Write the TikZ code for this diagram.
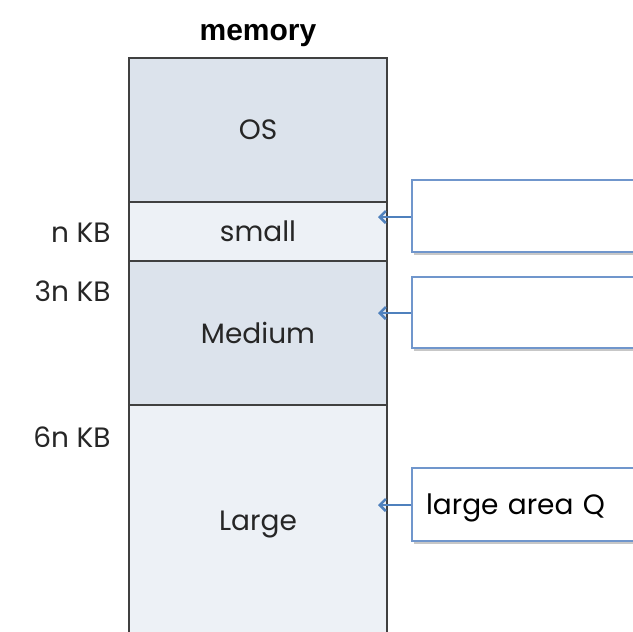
\documentclass[tikz,border=0pt]{standalone}
\usepackage{fontspec}
\setmainfont{Poppins}
\newfontfamily\headfont{Liberation Sans}
\usetikzlibrary{arrows.meta,shadows}
\definecolor{celldark}{HTML}{DCE3EC}
\definecolor{celllight}{HTML}{EDF1F6}
\definecolor{cellline}{HTML}{404040}
\definecolor{boxline}{HTML}{7096CC}
\definecolor{arrowblue}{HTML}{4F81BD}
\tikzset{
  label font/.style={font=\fontsize{28}{30}\selectfont,text=black!85},
  cell/.style={draw=cellline,line width=1.6pt,minimum width=258pt,inner sep=0pt,label font},
  note/.style={draw=boxline,line width=1.6pt,fill=white,minimum width=238pt,
    text width=210pt,align=left,inner sep=14pt,label font,text=black,text depth=0pt,
    drop shadow={shadow xshift=2pt,shadow yshift=-3pt,fill=black!22,opacity=1}},
  size/.style={anchor=east,label font},
  pointer/.style={draw=arrowblue,line width=2.6pt,-{Straight Barb[length=6pt,width=12pt]}}
}
\begin{document}
\begin{tikzpicture}[x=1pt,y=-1pt]
    \useasboundingbox (0,0) rectangle (633,632);
    \clip (0,0) rectangle (633,632);

    \coordinate (P1) at (378,217);
    \coordinate (P2) at (378,313);
    \coordinate (P3) at (378,505);

    \node (head) at (258,36) {\headfont\bfseries\fontsize{30}{32}\selectfont memory};

    \node[cell,fill=celldark,minimum height=144pt] (os) at (258,130) {OS};
    \node[cell,fill=celllight,minimum height=59pt] (small) at (258,231.5) {small};
    \node[cell,fill=celldark,minimum height=144pt] (medium) at (258,333) {Medium};
    \node[cell,fill=celllight,minimum height=245pt] (large) at (258,527.5) {};
    \node[label font,text depth=0pt] (largetxt) at (258,521) {Large};

    \node[size] (nkb) at (114,233) {n KB};
    \node[size] (tnkb) at (114,291) {3n KB};
    \node[size] (snkb) at (114,437) {6n KB};

    \node[note,minimum height=72pt] (q1) at (531,216) {};
    \node[note,minimum height=71pt] (q2) at (531,312.5) {};
    \node[note,minimum height=73pt] (q3) at (531,504.5) {large area Q};

    \draw[pointer] (q1.west |- P1) -- (P1);
    \draw[pointer] (q2.west |- P2) -- (P2);
    \draw[pointer] (q3.west |- P3) -- (P3);
\end{tikzpicture}
\end{document}
